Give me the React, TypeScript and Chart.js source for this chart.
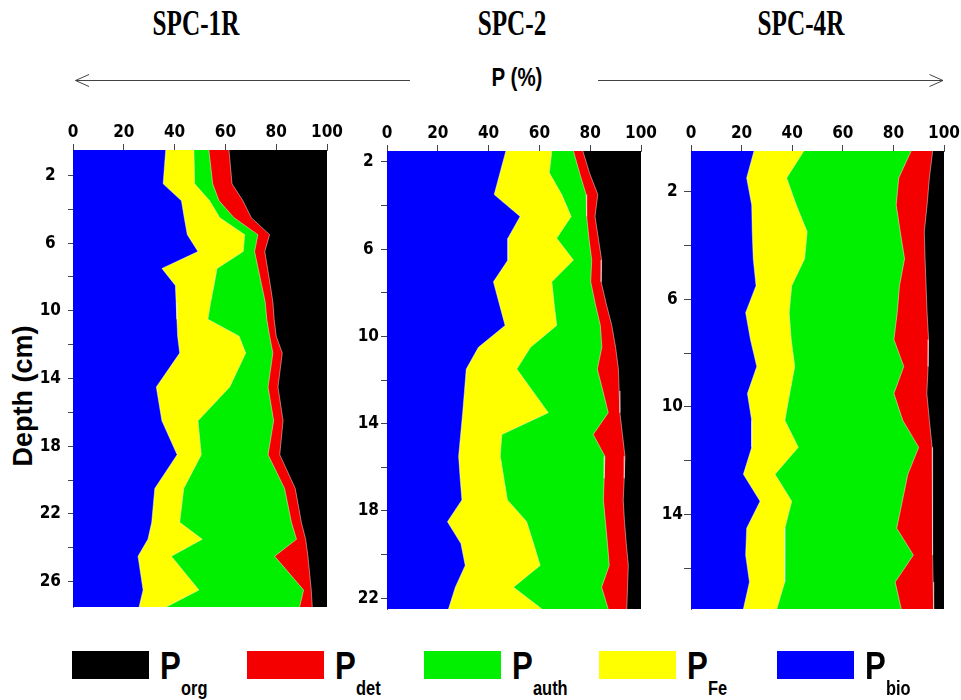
import React, { useEffect, useRef } from "react";
import { Chart, registerables } from "chart.js";
Chart.register(...registerables);

// ---------- data (percent of total P) ----------
const NAMES = ["Pbio", "PFe", "Pauth", "Pdet", "Porg"];
const COLORS = ["#0000ff", "#ffff00", "#00f000", "#f40000", "#000000"];
const X_TICK_STEP = 20;

// SPC-1R
const depth1 = [0.5, 2.5, 3.5, 4.5, 5.5, 6.5, 7.5, 8.5, 9.5, 10.5, 11.5, 12.5, 14.5, 16.5, 18.5, 20.5, 22.5, 23.5, 24.5, 26.5, 27.5];
const bio1 = [36.5, 35.5, 42.7, 43.8, 45.0, 49.2, 35.0, 40.3, 40.6, 40.9, 41.2, 42.0, 32.8, 35.0, 41.0, 32.2, 31.0, 29.5, 25.6, 27.6, 26.0];
const fe1 = [11.1, 12.4, 11.1, 14.0, 22.6, 17.8, 21.7, 15.2, 13.6, 12.2, 24.2, 26.0, 28.9, 14.2, 9.5, 11.4, 11.0, 21.4, 13.1, 22.0, 10.7];
const auth1 = [5.9, 7.1, 3.7, 5.6, 5.2, 4.5, 16.2, 18.8, 21.5, 23.2, 12.0, 10.7, 15.1, 29.8, 26.3, 39.7, 44.0, 37.1, 40.7, 41.2, 52.5];
const det1 = [7.9, 7.6, 9.4, 6.8, 4.6, 4.0, 3.7, 3.4, 3.0, 2.9, 2.6, 3.7, 3.9, 3.7, 4.6, 4.2, 3.9, 3.6, 13.1, 3.0, 5.0];
const org1 = [38.6, 37.4, 33.1, 29.8, 22.6, 24.5, 23.4, 22.3, 21.3, 20.8, 20.0, 17.6, 19.3, 17.3, 18.6, 12.5, 10.1, 8.4, 7.5, 6.2, 5.8];
const yTicks1 = [2, 4, 6, 8, 10, 12, 14, 16, 18, 20, 22, 24, 26];

// SPC-2
const depth2 = [1.5, 2.5, 3.5, 4.5, 5.5, 6.5, 7.5, 8.5, 9.5, 10.5, 11.5, 12.5, 13.5, 14.5, 15.5, 16.5, 17.5, 18.5, 19.5, 20.5, 21.5, 22.5];
const bio2 = [46.8, 44.5, 42.2, 52.4, 47.6, 47.6, 41.9, 44.2, 46.5, 36.0, 31.2, 30.5, 29.8, 29.0, 28.2, 28.8, 29.5, 23.8, 29.1, 30.8, 26.9, 24.2];
const fe2 = [18.1, 19.4, 26.6, 20.1, 19.2, 25.8, 23.0, 21.6, 20.3, 20.5, 19.9, 26.8, 33.7, 16.2, 16.4, 17.2, 17.9, 31.2, 28.6, 29.5, 22.9, 36.8];
const auth2 = [8.5, 11.9, 9.6, 6.1, 12.7, 7.2, 15.3, 16.2, 17.2, 28.1, 31.7, 27.7, 23.6, 36.0, 41.2, 39.5, 37.8, 31.0, 29.1, 27.2, 34.7, 26.1];
const det2 = [3.7, 3.9, 4.6, 3.3, 3.7, 3.9, 4.1, 4.3, 4.5, 5.4, 8.3, 6.4, 4.6, 11.5, 7.9, 7.9, 7.8, 7.5, 7.4, 7.5, 10.2, 7.3];
const org2 = [22.9, 20.3, 17.0, 18.1, 16.8, 15.5, 15.7, 13.7, 11.5, 10.0, 8.9, 8.6, 8.3, 7.3, 6.3, 6.6, 7.0, 6.5, 5.8, 5.0, 5.3, 5.6];
const yTicks2 = [2, 4, 6, 8, 10, 12, 14, 16, 18, 20, 22];

// SPC-4R
const depth3 = [0.5, 1.5, 2.5, 3.5, 4.5, 5.5, 6.5, 7.5, 8.5, 9.5, 10.5, 11.5, 12.5, 13.5, 14.5, 15.5, 16.5, 17.5];
const bio3 = [24.9, 22.0, 24.0, 24.2, 24.6, 25.7, 21.6, 23.5, 26.0, 22.3, 24.0, 24.0, 20.7, 27.3, 22.0, 21.6, 23.1, 20.7];
const fe3 = [19.7, 15.8, 17.6, 21.7, 20.3, 14.1, 17.2, 16.1, 15.0, 16.7, 13.1, 18.4, 12.5, 12.5, 15.1, 15.4, 14.0, 13.2];
const auth3 = [42.4, 44.3, 39.5, 36.8, 39.5, 42.6, 42.7, 40.6, 43.1, 41.2, 46.6, 47.6, 52.5, 43.7, 44.2, 50.9, 43.6, 49.2];
const det3 = [8.5, 12.1, 12.2, 9.5, 8.1, 10.5, 11.8, 13.7, 9.6, 13.0, 10.5, 5.3, 9.7, 12.0, 14.2, 7.6, 15.0, 12.8];
const org3 = [4.5, 5.8, 6.7, 7.8, 7.5, 7.1, 6.7, 6.1, 6.3, 6.8, 5.8, 4.7, 4.6, 4.5, 4.5, 4.5, 4.3, 4.1];
const yTicks3 = [2, 4, 6, 8, 10, 12, 14, 16];

const TITLES = ["SPC-1R", "SPC-2", "SPC-4R"];
const LEGEND_ORDER = [4, 3, 2, 1, 0];
const LEGEND_SUBS = ["bio", "Fe", "auth", "det", "org"];

const NARROW = "'Liberation Sans Narrow', 'Arial Narrow', 'DejaVu Sans Condensed', 'Liberation Sans', sans-serif";

type PanelProps = {
  left: number; top: number; width: number; height: number;
  padRight: number; padBottom: number; yWidth: number; xHeight: number;
  depths: number[]; series: number[][]; yMin: number; yMax: number; yTicks: number[];
  tickPad: number; tickLen: number;
};

function Panel(p: PanelProps) {
  const ref = useRef<HTMLCanvasElement>(null);
  useEffect(() => {
    const font = { family: NARROW, size: 17, weight: "bold" as const };
    const datasets = p.series.map((vals, i) => ({
      label: NAMES[i],
      data: vals.map((v, j) => ({ x: v, y: p.depths[j] })),
      backgroundColor: COLORS[i],
      borderColor: i === 4 ? "rgba(0,0,0,0)" : "rgba(255,255,255,0.45)",
      borderWidth: i === 4 ? 0 : 1,
      fill: "origin",
      pointRadius: 0,
      tension: 0,
    }));
    const chart = new Chart(ref.current as HTMLCanvasElement, {
      type: "line",
      data: { datasets } as any,
      options: {
        animation: false,
        responsive: false,
        indexAxis: "y",
        layout: { padding: { left: 0, top: 0, right: p.padRight, bottom: p.padBottom } },
        plugins: { legend: { display: false }, tooltip: { enabled: false } },
        scales: {
          x: {
            type: "linear",
            position: "top",
            min: 0,
            max: 100,
            stacked: true,
            ticks: { stepSize: X_TICK_STEP, font, color: "#000", padding: 1 },
            grid: { drawOnChartArea: false, tickLength: 6, color: "#444" },
            border: { color: "#666" },
            afterFit: (s: any) => { s.height = p.xHeight; },
          },
          y: {
            type: "linear",
            reverse: true,
            min: p.yMin,
            max: p.yMax,
            afterBuildTicks: (s: any) => { s.ticks = p.yTicks.map((v) => ({ value: v })); },
            ticks: {
              autoSkip: false,
              crossAlign: "center",
              padding: p.tickPad,
              font,
              color: "#000",
              callback: (v: any) => ((Number(v) - 2) % 4 === 0 ? String(v) : ""),
            },
            grid: { drawOnChartArea: false, tickLength: p.tickLen, color: "#444" },
            border: { color: "#666" },
            afterFit: (s: any) => { s.width = p.yWidth; },
          },
        },
      } as any,
    });
    return () => chart.destroy();
  }, []);
  return (
    <canvas
      ref={ref}
      width={p.width}
      height={p.height}
      style={{ position: "absolute", left: p.left, top: p.top, width: p.width, height: p.height }}
    />
  );
}

export default function App() {
  const titleX = [196, 512, 801];
  const boxLefts = [72, 247, 424, 599, 777];
  return (
    <div style={{ position: "fixed", left: 0, top: 0, width: 961, height: 700, background: "#fff", overflow: "hidden" }}>
      {TITLES.map((t, i) => (
        <div
          key={t}
          style={{
            position: "absolute", left: titleX[i] - 100, top: 6, width: 200, textAlign: "center",
            fontFamily: "'Liberation Serif', 'Times New Roman', serif", fontWeight: "bold", fontSize: 35,
            lineHeight: 1, transform: "scaleX(0.72)", color: "#000",
          }}
        >
          {t}
        </div>
      ))}
      <svg width={961} height={100} style={{ position: "absolute", left: 0, top: 0 }}>
        <g stroke="#444" strokeWidth={1} fill="none">
          <line x1={75.5} y1={80.5} x2={410} y2={80.5} />
          <polyline points="89,74.5 75.5,80.5 89,86.5" />
          <line x1={598} y1={80.5} x2={943} y2={80.5} />
          <polyline points="929.5,74.5 943,80.5 929.5,86.5" />
        </g>
      </svg>
      <div
        style={{
          position: "absolute", left: 517 - 60, top: 65, width: 120, textAlign: "center",
          fontFamily: "'Liberation Sans', Arial, sans-serif", fontWeight: "bold", fontSize: 25,
          lineHeight: 1, transform: "scaleX(0.82)", color: "#000",
        }}
      >
        P (%)
      </div>
      <div
        style={{
          position: "absolute", left: 23 - 100, top: 396 - 16, width: 200, height: 32, lineHeight: "32px",
          textAlign: "center", transform: "rotate(-90deg)",
          fontFamily: "'Liberation Sans', Arial, sans-serif", fontWeight: "bold", fontSize: 27, color: "#000",
        }}
      >
        Depth (cm)
      </div>

      <Panel left={0} top={100} width={350} height={540} padRight={23} padBottom={33} yWidth={73} xHeight={50}
        depths={depth1} series={[bio1, fe1, auth1, det1, org1]} yMin={0.5} yMax={27.5} yTicks={yTicks1} tickPad={7} tickLen={5} />
      <Panel left={340} top={100} width={330} height={540} padRight={29} padBottom={31} yWidth={47} xHeight={51}
        depths={depth2} series={[bio2, fe2, auth2, det2, org2]} yMin={1.5} yMax={22.5} yTicks={yTicks2} tickPad={2} tickLen={6} />
      <Panel left={650} top={100} width={311} height={540} padRight={16} padBottom={31} yWidth={41} xHeight={51}
        depths={depth3} series={[bio3, fe3, auth3, det3, org3]} yMin={0.5} yMax={17.5} yTicks={yTicks3} tickPad={1} tickLen={7} />

      {LEGEND_ORDER.map((idx, k) => (
        <React.Fragment key={NAMES[idx]}>
          <div style={{ position: "absolute", left: boxLefts[k], top: 651, width: 77, height: 28, background: COLORS[idx] }} />
          <div
            style={{
              position: "absolute", left: boxLefts[k] + 88, top: 646.7, fontFamily: "'Liberation Sans', Arial, sans-serif",
              fontWeight: "bold", fontSize: 38, lineHeight: 1, transform: "scaleX(0.82)", transformOrigin: "left top", color: "#000",
            }}
          >
            P
          </div>
          <div
            style={{
              position: "absolute", left: boxLefts[k] + 109, top: 678, fontFamily: "'Liberation Sans', Arial, sans-serif",
              fontWeight: "bold", fontSize: 20, lineHeight: 1, transform: "scaleX(0.82)", transformOrigin: "left top", color: "#000",
              whiteSpace: "nowrap",
            }}
          >
            {LEGEND_SUBS[idx]}
          </div>
        </React.Fragment>
      ))}
    </div>
  );
}
